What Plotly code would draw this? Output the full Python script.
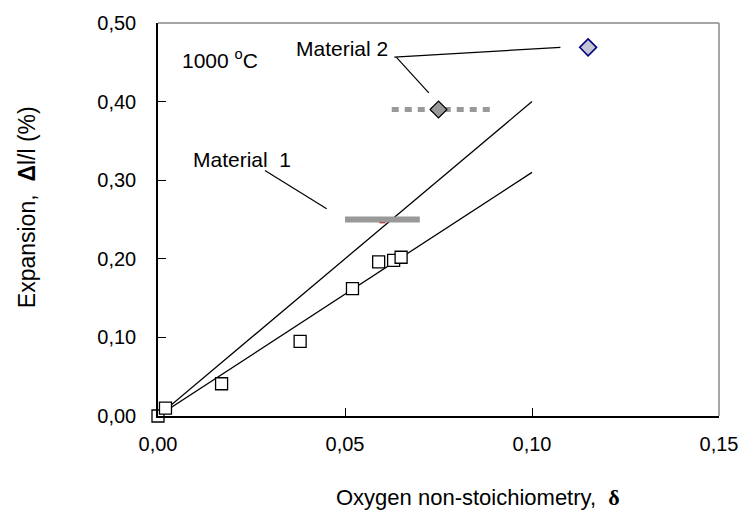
import plotly.graph_objects as go

# ---- data ----
delta = [0.000, 0.002, 0.017, 0.038, 0.052, 0.059, 0.063, 0.065]
expansion = [0.000, 0.010, 0.041, 0.095, 0.162, 0.196, 0.198, 0.202]

fit_x = [0.0, 0.10]
fit_upper = [0.0, 0.40]
fit_lower = [0.0, 0.31]

mat1_x = [0.050, 0.070]
mat1_y = [0.250, 0.250]
mat1_point_x = [0.060]
mat1_point_y = [0.249]

mat2_x = [0.0625, 0.090]
mat2_y = [0.390, 0.390]
mat2_point_x = [0.075]
mat2_point_y = [0.390]

mat2b_x = [0.115]
mat2b_y = [0.469]

x_ticks = [0.0, 0.05, 0.10, 0.15]
y_ticks = [0.0, 0.1, 0.2, 0.3, 0.4, 0.5]

# annotation texts and anchor points (data units)
label_temp = "1000 <sup>o</sup>C"
label_temp_pos = (0.0058, 0.454)
label_m2 = "Material 2"
label_m2_pos = (0.0364, 0.467)
label_m1 = "Material  1"
label_m1_pos = (0.0088, 0.326)

# leader lines: (start_x, start_y, end_x, end_y)
leaders = [
    (0.0632, 0.4566, 0.1076, 0.469),
    (0.0637, 0.4566, 0.0724, 0.411),
    (0.0286, 0.3123, 0.0451, 0.2637),
]

FONT = "Liberation Sans, Arial, sans-serif"
FS_TICK = 20
FS_ANN = 21
FS_XT = 22
FS_YT = 23

fig = go.Figure()

fig.add_trace(go.Scatter(x=fit_x, y=fit_upper, mode="lines",
                         line=dict(color="black", width=1.3), showlegend=False))
fig.add_trace(go.Scatter(x=fit_x, y=fit_lower, mode="lines",
                         line=dict(color="black", width=1.3), showlegend=False))

fig.add_trace(go.Scatter(x=mat1_point_x, y=mat1_point_y, mode="markers",
                         marker=dict(symbol="square", size=6, color="#cc0000"),
                         showlegend=False))
fig.add_trace(go.Scatter(x=mat1_x, y=mat1_y, mode="lines",
                         line=dict(color="#999999", width=6), showlegend=False))

fig.add_trace(go.Scatter(x=mat2_x, y=mat2_y, mode="lines",
                         line=dict(color="#999999", width=5, dash="7px,6px"),
                         showlegend=False))
fig.add_trace(go.Scatter(x=mat2_point_x, y=mat2_point_y, mode="markers",
                         marker=dict(symbol="diamond", size=13, color="#999999",
                                     line=dict(color="black", width=1.2)),
                         showlegend=False))
fig.add_trace(go.Scatter(x=mat2b_x, y=mat2b_y, mode="markers",
                         marker=dict(symbol="diamond", size=13, color="#c4c4d4",
                                     line=dict(color="#000080", width=1.5)),
                         showlegend=False, cliponaxis=False))

fig.add_trace(go.Scatter(x=delta, y=expansion, mode="markers",
                         marker=dict(symbol="square", size=12, color="white",
                                     line=dict(color="black", width=1.3)),
                         showlegend=False, cliponaxis=False))

annotations = [
    dict(x=label_temp_pos[0], y=label_temp_pos[1], text=label_temp,
         xanchor="left", yanchor="middle", showarrow=False,
         font=dict(family=FONT, size=FS_ANN, color="black")),
    dict(x=label_m2_pos[0], y=label_m2_pos[1], text=label_m2,
         xanchor="left", yanchor="middle", showarrow=False,
         font=dict(family=FONT, size=FS_ANN, color="black")),
    dict(x=label_m1_pos[0], y=label_m1_pos[1], text=label_m1,
         xanchor="left", yanchor="middle", showarrow=False,
         font=dict(family=FONT, size=FS_ANN, color="black")),
    # axis titles
    dict(xref="paper", yref="paper", x=0.57, y=-0.208,
         text="Oxygen non-stoichiometry,  "
              "<span style=\"font-family:'Liberation Serif', serif\"><b>δ</b></span>",
         showarrow=False, xanchor="center", yanchor="middle",
         font=dict(family=FONT, size=FS_XT, color="black")),
    dict(xref="paper", yref="paper", x=-0.233, y=0.532,
         text="Expansion,  <b>Δ</b>l/l (%)", textangle=-90,
         showarrow=False, xanchor="center", yanchor="middle",
         font=dict(family=FONT, size=FS_YT, color="black")),
]

shapes = [
    dict(type="line", xref="paper", yref="paper", x0=0, x1=1, y0=1, y1=1,
         line=dict(color="#888888", width=1.5)),
    dict(type="line", xref="paper", yref="paper", x0=1, x1=1, y0=0, y1=1,
         line=dict(color="#888888", width=1.5)),
]
for sx, sy, ex, ey in leaders:
    shapes.append(dict(type="line", xref="x", yref="y", x0=sx, y0=sy,
                       x1=ex, y1=ey, line=dict(color="black", width=1.2)))

fig.update_layout(
    width=750, height=521,
    margin=dict(l=158, r=22, t=14, b=105),
    paper_bgcolor="white", plot_bgcolor="white",
    separators=",.",
    font=dict(family=FONT, size=FS_TICK, color="black"),
    annotations=annotations,
    shapes=shapes,
)
fig.update_xaxes(range=[0, 0.15], tickvals=x_ticks, tickformat=".2f",
                 showline=True, linecolor="black", linewidth=1.5,
                 ticks="inside", ticklen=8, tickcolor="black", tickwidth=1.2,
                 showgrid=False, zeroline=False, ticklabelstandoff=9,
                 ticklabeloverflow="allow",
                 tickfont=dict(family=FONT, size=FS_TICK, color="black"))
fig.update_yaxes(range=[0, 0.5], tickvals=y_ticks, tickformat=".2f",
                 showline=True, linecolor="black", linewidth=1.5,
                 ticks="inside", ticklen=8, tickcolor="black", tickwidth=1.2,
                 showgrid=False, zeroline=False, ticklabelstandoff=16,
                 ticklabeloverflow="allow",
                 tickfont=dict(family=FONT, size=FS_TICK, color="black"))

# remove the default page margin so the figure sits at the window origin
fig.write_html("out.html", config={"displayModeBar": False},
               post_script="document.body.style.margin='0px';")
